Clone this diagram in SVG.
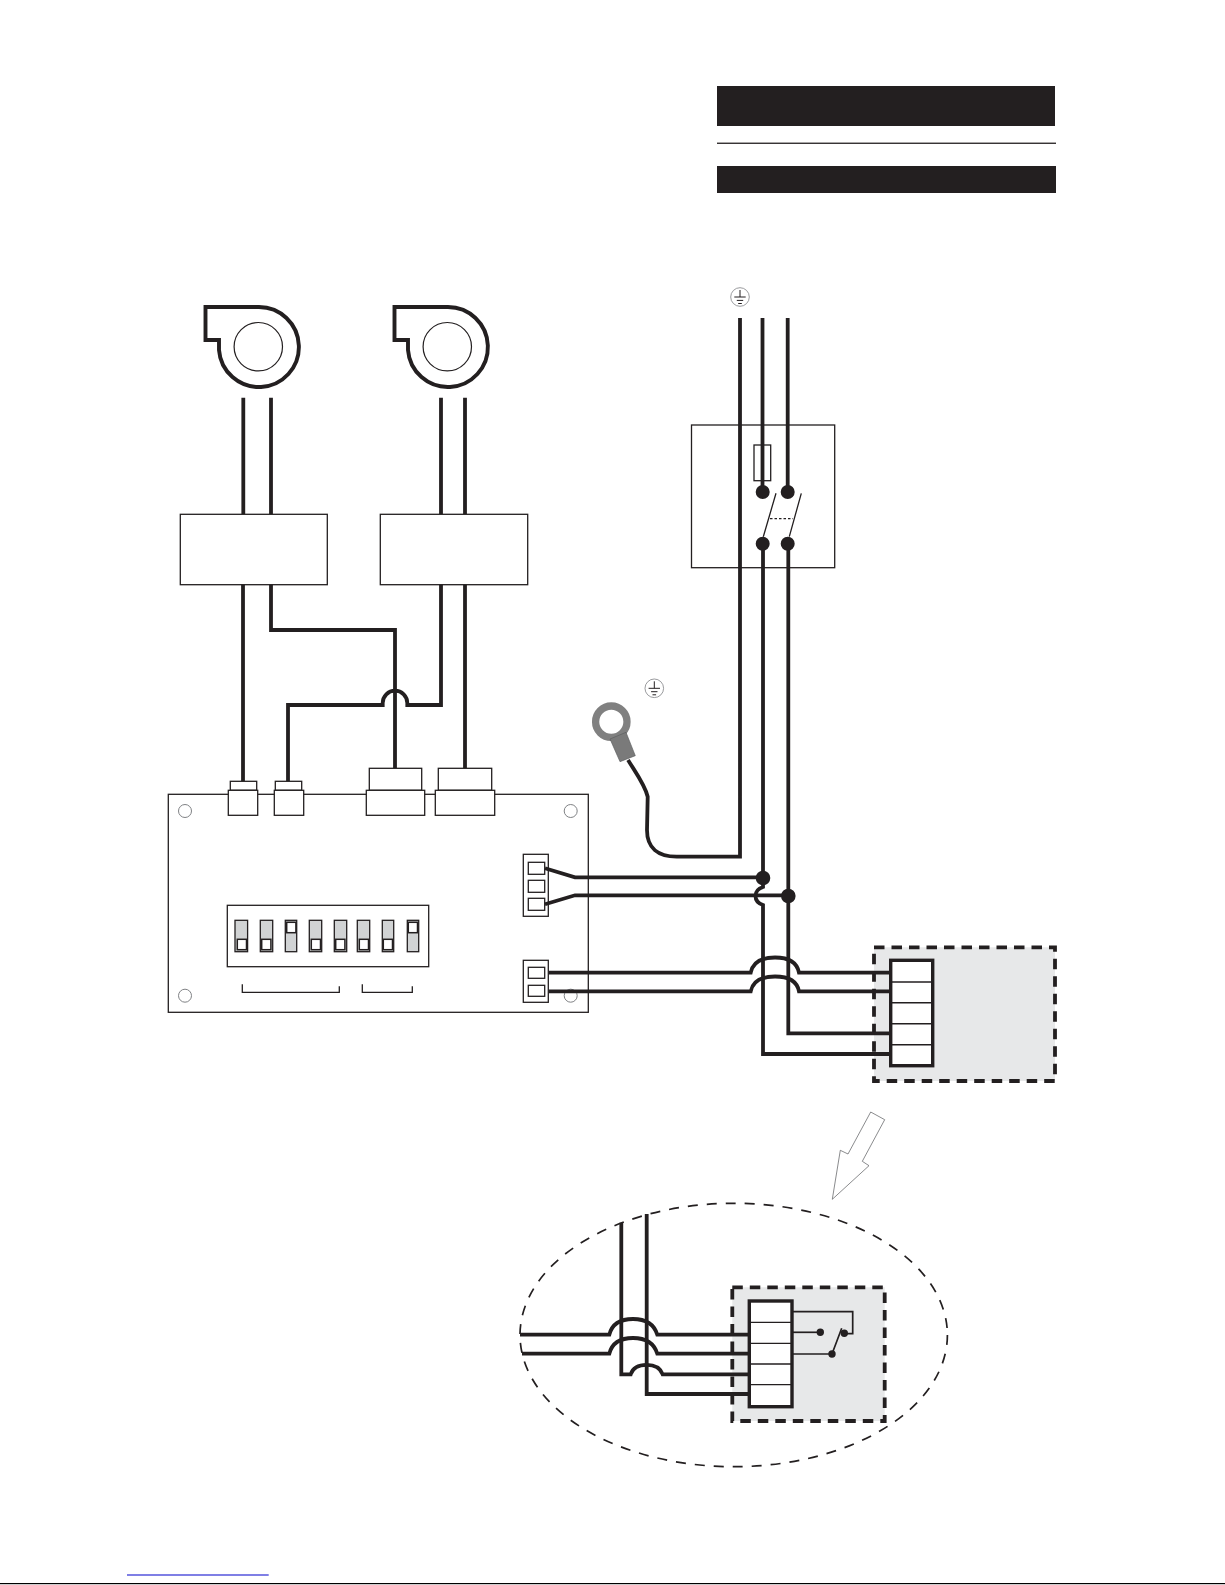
<svg xmlns="http://www.w3.org/2000/svg" width="1225" height="1585" viewBox="0 0 1225 1585">
<style>
.bg{fill:#fff}
.k{fill:#231f20}
.thin{fill:#fff;stroke:#231f20;stroke-width:1.3}
.line{fill:none;stroke:#231f20;stroke-width:1.3}
.wire{fill:none;stroke:#231f20;stroke-width:3.8;stroke-miterlimit:10}
.wire2{fill:none;stroke:#231f20;stroke-width:1.7}
.fan{fill:#fff;stroke:#231f20;stroke-width:3.9}
.hole{fill:#fff;stroke:#808285;stroke-width:1}
.sw{fill:#d1d3d4;stroke:#231f20;stroke-width:1.3}
.knob{fill:#fff;stroke:#231f20;stroke-width:1.5}
.dash{fill:#e7e8e9;stroke:#231f20;stroke-width:3.8;stroke-dasharray:10.5 7}
.term{fill:#fff;stroke:#231f20;stroke-width:3.4}
</style>
<defs>
<g id="earth">
<circle r="9.3" fill="#fff" stroke="#808285" stroke-width="0.8"/>
<path d="M0-7V0M-5.7 0H5.7M-3.2 3.4H3.2M-1.8 6.5H1.8" fill="none" stroke="#231f20" stroke-width="1"/>
</g>
<g id="blower">
<path class="fan" d="M205.5 307H258.3A40 40 0 1 1 219 350V340H205.5Z"/>
<circle cx="258.3" cy="346.7" r="24.2" fill="none" stroke="#231f20" stroke-width="1.2"/>
</g>
</defs>
<rect class="bg" width="1225" height="1585"/>

<g id="title-bars">
<rect class="k" x="717" y="86" width="338" height="40"/>
<rect class="k" x="717" y="142.6" width="339" height="1.3"/>
<rect class="k" x="717" y="166" width="339" height="27"/>
</g>
<g id="blower-1"><use href="#blower"/></g>
<g id="blower-2"><use href="#blower" x="189"/></g>
<g id="earth-top"><use href="#earth" x="740" y="297"/></g>
<g id="earth-lug-symbol"><use href="#earth" x="654.3" y="688.3"/></g>

<g id="pcb">
<rect class="thin" x="168.3" y="794.3" width="420" height="218"/>
<circle class="hole" cx="185" cy="811" r="6.5"/>
<circle class="hole" cx="570.7" cy="811" r="6.5"/>
<circle class="hole" cx="185" cy="995.7" r="6.5"/>
<circle class="hole" cx="570.7" cy="995.7" r="6.5"/>
<g id="dip-switch">
<rect class="thin" x="227.3" y="905.3" width="201.4" height="61.4"/>
<rect class="sw" x="235" y="920.3" width="12.6" height="31.4"/>
<rect class="knob" x="237.3" y="939.3" width="9.2" height="10.4"/>
<rect class="sw" x="260.3" y="920.3" width="12.4" height="31.4"/>
<rect class="knob" x="261.7" y="939.3" width="9.2" height="10.4"/>
<rect class="sw" x="285.3" y="920.3" width="11.4" height="31.4"/>
<rect class="knob" x="286.7" y="922.3" width="9.2" height="10.4"/>
<rect class="sw" x="309.3" y="920.3" width="12.4" height="31.4"/>
<rect class="knob" x="311.3" y="939.3" width="9.2" height="10.4"/>
<rect class="sw" x="334.3" y="920.3" width="12.4" height="31.4"/>
<rect class="knob" x="335.7" y="939.3" width="9.2" height="10.4"/>
<rect class="sw" x="357.3" y="920.3" width="12.4" height="31.4"/>
<rect class="knob" x="359.3" y="939.3" width="9.2" height="10.4"/>
<rect class="sw" x="382.3" y="920.3" width="11.4" height="31.4"/>
<rect class="knob" x="383.3" y="939.3" width="9.2" height="10.4"/>
<rect class="sw" x="407.3" y="920.3" width="11.4" height="31.4"/>
<rect class="knob" x="408.3" y="922.3" width="9.2" height="10.4"/>
</g>
<path class="line" d="M242.3 984.3V992.3H339.3V986.3"/>
<path class="line" d="M362.3 984.3V992.3H412.3V986.3"/>
<g id="terminal-a">
<rect class="thin" x="523.3" y="854.3" width="25" height="62"/>
<rect class="thin" x="528.3" y="862.3" width="16.4" height="12"/>
<rect class="thin" x="528.3" y="880.3" width="16.4" height="12"/>
<rect class="thin" x="528.3" y="898.3" width="16.4" height="12"/>
</g>
<g id="terminal-b">
<rect class="thin" x="523.3" y="960.3" width="25" height="42"/>
<rect class="thin" x="528.3" y="967.3" width="16.4" height="11"/>
<rect class="thin" x="528.3" y="985.3" width="16.4" height="11"/>
</g>
</g>

<g id="isolator">
<rect fill="none" stroke="#231f20" stroke-width="1.3" x="691.5" y="425" width="143.2" height="142.7"/>
<rect fill="none" stroke="#231f20" stroke-width="1.3" x="754" y="445" width="16.7" height="35.7"/>
<path class="line" d="M763.3 536.7L776 493.3M789.3 536.7L801.3 493.3"/>
<path class="line" d="M770 518.7H793" stroke-dasharray="2.5 2"/>
</g>
<g id="load-box">
<rect class="dash" x="874" y="947.3" width="181" height="133.7"/>
</g>
<g id="detail-box">
<rect class="dash" x="732.3" y="1287.3" width="152.4" height="133.7"/>
</g>

<g id="connectors">
<path class="wire" d="M243.3 397.7V514M271 397.7V514M441 397.7V514M465 397.7V514"/>
<path class="wire" d="M243 584V781.3"/>
<path class="wire" d="M271 584V630H395V768.3"/>
<path class="wire" d="M441 584V705H407.3V703A12.3 12.3 0 0 0 382.7 703V705H288V781.3"/>
<path class="wire" d="M465 584V768.3"/>
<path class="wire" d="M740 318V856.7H676.7C658 856.7 647 848 647 830L647.7 796.7C645 785 636 773 628 760"/>
<path class="wire" d="M762.5 318V492"/>
<path class="wire" d="M787.7 318V492"/>
<path class="wire" d="M763 543.7V887C757 889 755.5 892 755.5 896C755.5 900 757 903 763 905V1054H891"/>
<path class="wire" d="M788.3 543.7V1033.3H891"/>
<path class="wire" d="M545 868.3L575 877.3H763"/>
<path class="wire" d="M545 904.3L575 895.3H788"/>
<path class="wire" d="M548.7 972.7H750.7C753 962 762 957.5 775 957.5S797 962 799 972.7H891"/>
<path class="wire" d="M548.7 991.3H750.7C753 981 762 976.5 775 976.5S797 981 799 991.3H891"/>
<path class="k" d="M755.7 492a7 7 0 1 0 14 0a7 7 0 1 0-14 0M780.7 492a7 7 0 1 0 14 0a7 7 0 1 0-14 0M755.7 543.7a7 7 0 1 0 14 0a7 7 0 1 0-14 0M780.7 543.7a7 7 0 1 0 14 0a7 7 0 1 0-14 0M755.7 878a7.3 7.3 0 1 0 14.6 0a7.3 7.3 0 1 0-14.6 0M781 896a7.3 7.3 0 1 0 14.6 0a7.3 7.3 0 1 0-14.6 0"/>
<path class="wire" d="M621.3 1222.7V1374.3H630.7C633 1367 639 1364.8 646.7 1364.8S660 1367 662.7 1374.3H749"/>
<path class="wire" d="M646.7 1214V1394H749"/>
<path class="wire" d="M520 1334.7H609.3C612 1324 621 1319 633 1319S654 1324 657.3 1334.7H749"/>
<path class="wire" d="M522 1353.7H609.3C612 1343 621 1338 633 1338S654 1343 657.3 1353.7H749"/>
<path class="wire2" d="M792 1311.7H852.7V1333.7H844.3"/>
<path class="wire2" d="M792 1332.3H820.3"/>
<path class="wire2" d="M792 1354H832L841.7 1328.3"/>
<path class="k" d="M816.6 1332.3a3.7 3.7 0 1 0 7.4 0a3.7 3.7 0 1 0-7.4 0M840.6 1333.3a3.7 3.7 0 1 0 7.4 0a3.7 3.7 0 1 0-7.4 0M828.3 1354a3.7 3.7 0 1 0 7.4 0a3.7 3.7 0 1 0-7.4 0"/>
</g>

<g id="mixer-1"><rect class="thin" x="180.3" y="514.3" width="147" height="70.4"/></g>
<g id="mixer-2"><rect class="thin" x="380.3" y="514.3" width="147.4" height="70.4"/></g>
<g id="plug-1">
<rect class="thin" x="230.3" y="781.3" width="26.4" height="9"/>
<rect class="thin" x="228.3" y="790.3" width="29.4" height="25"/>
</g>
<g id="plug-2">
<rect class="thin" x="275.3" y="781.3" width="26.4" height="9"/>
<rect class="thin" x="274.3" y="790.3" width="29.4" height="25"/>
</g>
<g id="plug-3">
<rect class="thin" x="369.3" y="768.3" width="52.4" height="22"/>
<rect class="thin" x="366.3" y="790.3" width="58.4" height="25"/>
</g>
<g id="plug-4">
<rect class="thin" x="438.3" y="768.3" width="53.4" height="22"/>
<rect class="thin" x="435.3" y="790.3" width="59.4" height="25"/>
</g>
<g id="ring-lug">
<circle cx="611.3" cy="721.7" r="15.7" fill="none" stroke="#808080" stroke-width="7.3"/>
<path d="M610 739L626 732.3L635.3 755.7L620 761.7Z" fill="#7a7a7a" stroke="#58595b" stroke-width="0.6"/>
</g>
<g id="load-terminal">
<rect class="term" x="890.7" y="960.3" width="42" height="105.4"/>
<path class="line" d="M890.7 982H932.7M890.7 1002.7H932.7M890.7 1023.7H932.7M890.7 1044.7H932.7" style="stroke-width:1.5"/>
</g>
<g id="detail-terminal">
<rect class="term" x="749.3" y="1301" width="42.7" height="105.7"/>
<path class="line" d="M749.3 1322.3H792M749.3 1343.3H792M749.3 1364H792M749.3 1384.7H792"/>
</g>
<g id="zoom-arrow">
<path d="M870.7 1112L884.7 1119.7L862.3 1161.3L869 1165.7L832.3 1199.3L840.3 1150.3L848 1154Z" fill="#fff" stroke="#58595b" stroke-width="0.7"/>
</g>
<g id="detail-ellipse">
<ellipse cx="733.7" cy="1335" rx="213.7" ry="131.7" fill="none" stroke="#231f20" stroke-width="1.7" stroke-dasharray="10 9"/>
</g>
<g id="page-edge">
<rect x="127" y="1574.5" width="141.7" height="1" fill="#0000cc"/>
<rect x="0" y="1583" width="1225" height="1.2" fill="#000"/>
</g>
</svg>
